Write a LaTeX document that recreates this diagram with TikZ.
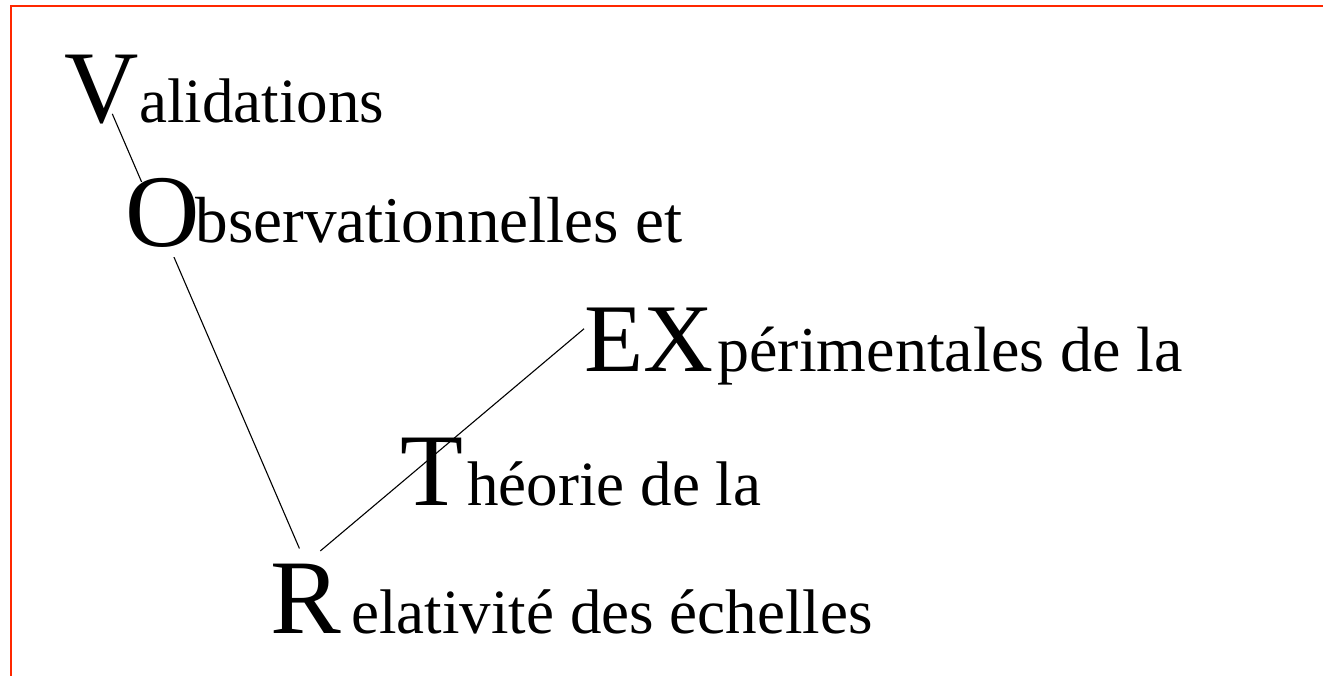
\documentclass[tikz,border=0pt]{standalone}
\usepackage{fontspec}
\setmainfont{Liberation Serif}
\usepackage{tikz}
\usetikzlibrary{arrows, arrows.meta}
\definecolor{framered}{RGB}{255,40,0}
\tikzset{letter/.style = {inner sep = 0, anchor = base west, font = \fontsize{51.5}{60}\selectfont}}
\tikzset{word/.style = {inner sep = 0, anchor = base west, font = \fontsize{31.5}{38}\selectfont}}
\tikzset{edge/.style = {-, line width = 0.55pt}}

\begin{document}
\begin{tikzpicture}
				\useasboundingbox (0, 0) rectangle (23.249, 11.862);
				\draw[framered, line width = 1pt] (0.202, -0.5) rectangle (23.8, 11.748);

				\node[letter] (v) at (1.125, 9.718) {V};
				\node[word] (va) at (2.443, 9.718) {alidations};
				\node[letter, font = \fontsize{53}{60}\selectfont] (r) at (4.745, 0.738) {R};
				\node[word] (re) at (6.168, 0.738) {elativité des échelles};
				\node[letter] (t) at (7.029, 2.987) {T};
				\node[word] (th) at (8.207, 2.987) {héorie de la};
				\node[letter, font = \fontsize{48.5}{56}\selectfont] (ex) at (10.263, 5.325) {EX};
				\node[word, font = \fontsize{32}{38}\selectfont] (exp) at (12.600, 5.325) {périmentales de la};

				\draw[edge, shorten <= 13.5pt, shorten >= 8pt] (v.center) to (r.north);
				\draw[edge, shorten <= 9.5pt] (r.north) to (ex.170);

				\node[letter, fill = white, text height = 32pt, text depth = 5.5pt] (o) at (2.197, 7.539) {O};
				\node[word, font = \fontsize{32.6}{38}\selectfont] (ob) at (3.427, 7.609) {bservationnelles et};
			\end{tikzpicture}
\end{document}
